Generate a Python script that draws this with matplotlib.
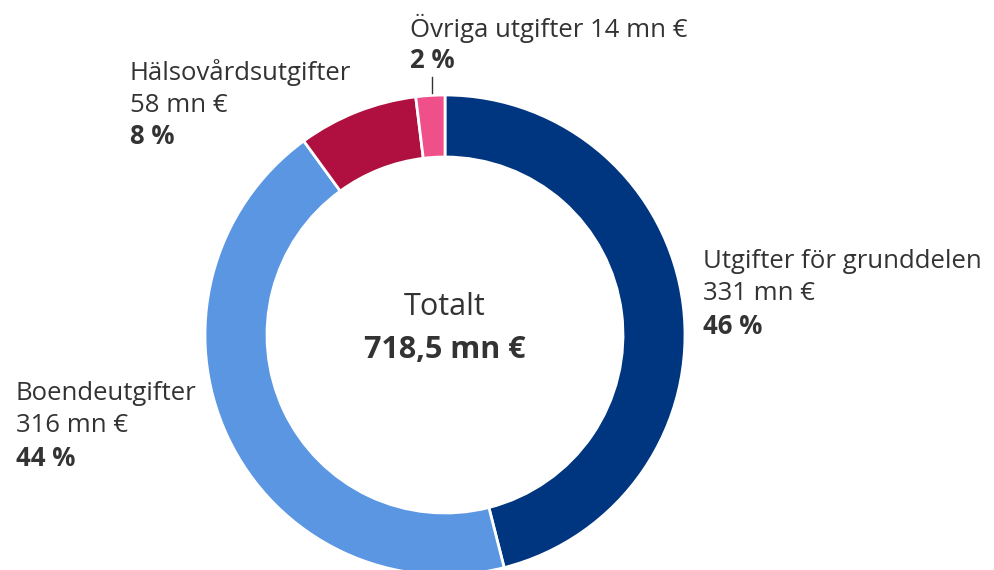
import matplotlib.pyplot as plt

# data
categories = ["Utgifter för grunddelen", "Boendeutgifter", "Hälsovårdsutgifter", "Övriga utgifter"]
values_mn = [331, 316, 58, 14]
percents = [46, 44, 8, 2]
total_label = "718,5 mn €"
colors = ["#003580", "#5b96e3", "#b01040", "#f0508a"]

plt.rcParams["font.family"] = ["Open Sans", "DejaVu Sans"]
txt = "#333333"

W, H = 994, 570
fig = plt.figure(figsize=(W / 100, H / 100), dpi=100)
ax = fig.add_axes([0, 0, 1, 1])

cx, cy, r = 445, H - 335, 240
ax.pie(values_mn, colors=colors, startangle=90, counterclock=False,
       center=(cx, cy), radius=r, frame=True,
       wedgeprops=dict(width=62, edgecolor="white", linewidth=2))
ax.set_xlim(0, W)
ax.set_ylim(0, H)
ax.set_aspect("equal")
ax.axis("off")


def y(py):
    return H - py


fs = 18.5

# centre
ax.text(cx, y(307), "Totalt", ha="center", va="center", fontsize=22, color=txt)
ax.text(cx, y(350), total_label, ha="center", va="center", fontsize=22,
        color=txt, fontweight="bold")


def label(x, py, lines, pct):
    for i, s in enumerate(lines):
        ax.text(x, y(py + i * 32), s, ha="left", va="center", fontsize=fs, color=txt)
    ax.text(x, y(py + len(lines) * 32), f"{pct} %", ha="left", va="center",
            fontsize=fs, color=txt, fontweight="bold")


label(703, 262, [categories[0], f"{values_mn[0]} mn €"], percents[0])
label(16, 394, [categories[1], f"{values_mn[1]} mn €"], percents[1])
label(130, 73, [categories[2], f"{values_mn[2]} mn €"], percents[2])
label(410, 28, [f"{categories[3]} {values_mn[3]} mn €"], percents[3])

ax.plot([432, 432], [y(77), y(93)], color=txt, linewidth=1)

fig.savefig("out.png", dpi=100)
